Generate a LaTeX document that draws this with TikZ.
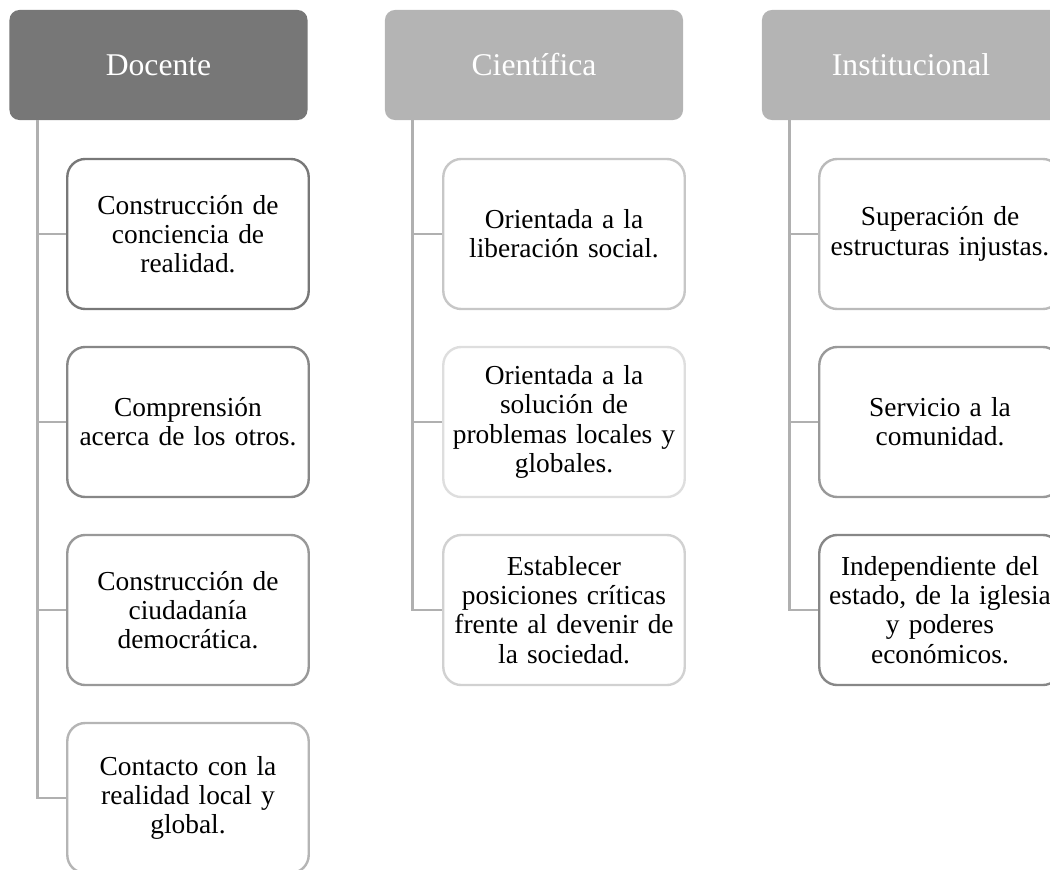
\documentclass[tikz,border=0pt]{standalone}
\usepackage{fontspec}
\setmainfont{Liberation Serif}
\usepackage{xcolor}
\usepackage{tikz}
\usetikzlibrary{positioning,calc}

\definecolor{hdDark}{HTML}{777777}
\definecolor{hdLight}{HTML}{B4B4B4}
\definecolor{lineGray}{HTML}{B0B0B0}

\begin{document}
\begin{tikzpicture}[x=0.025cm, y=-0.025cm,
    header/.style={rectangle, rounded corners=0.25cm, minimum width=7.45cm, minimum height=2.75cm, text=white, font=\fontsize{22.5}{27}\selectfont},
    item/.style={rectangle, rounded corners=0.45cm, draw=#1, line width=1.7pt, fill=white, minimum width=6cm, minimum height=3.75cm, text width=5.8cm, align=center, font=\fontsize{19.5}{20.8}\selectfont},
    conn/.style={draw=lineGray, line width=1.9pt}
]
    \useasboundingbox (0,0) rectangle (1050,869);

    % Headers
    \node[header, fill=hdDark] (doc) at (158.5,65) {Docente};
    \node[header, fill=hdLight] (cie) at (534,65) {Científica};
    \node[header, fill=hdLight] (ins) at (911,65) {Institucional};

    % Docente
    \node[item=black!53] (d1) at (188,234) {Construcción de\\conciencia de\\realidad.};
    \node[item=black!47] (d2) at (188,422) {Comprensión\\acerca de los otros.};
    \node[item=black!40] (d3) at (188,610) {Construcción de\\ciudadanía\\democrática.};
    \node[item=black!29] (d4) at (188,798) {Contacto con la\\realidad local y\\global.};

    % Cientifica
    \node[item=black!22] (c1) at (564,234) {Orientada a la\\liberación social.};
    \node[item=black!13] (c2) at (564,422) {Orientada a la\\solución de\\problemas locales y\\globales.};
    \node[item=black!18] (c3) at (564,610) {Establecer\\posiciones críticas\\frente al devenir de\\la sociedad.};

    % Institucional
    \node[item=black!27] (i1) at (940,234) {Superación de\\estructuras injustas.};
    \node[item=black!40] (i2) at (940,422) {Servicio a la\\comunidad.};
    \node[item=black!47] (i3) at (940,610) {Independiente del\\estado, de la iglesia\\y poderes\\económicos.};

    % Connectors
    \foreach \h/\c in {doc/d1,doc/d2,doc/d3,doc/d4,cie/c1,cie/c2,cie/c3,ins/i1,ins/i2,ins/i3}
        \draw[conn] ([xshift=0.7cm]\h.south west) |- (\c.west);
\end{tikzpicture}
\end{document}
